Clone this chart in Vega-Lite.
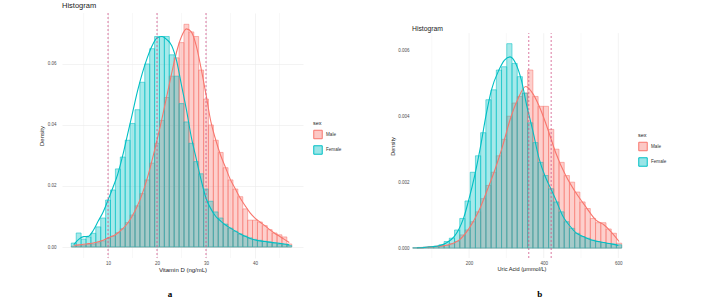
{
  "$schema": "https://vega.github.io/schema/vega-lite/v6.json",
  "background": "white",
  "padding": {"left": 38, "top": 2, "right": 2, "bottom": 2},
  "config": {
    "font": "Liberation Sans",
    "view": {"stroke": null},
    "axis": {"domain": false, "ticks": false, "gridColor": "#EBEBEB", "gridWidth": 0.6, "labelFontSize": 4.5, "labelColor": "#4D4D4D", "labelOverlap": false, "titleFontSize": 6, "titleFontWeight": "normal", "titleColor": "#1a1a1a"},
    "legend": {"titleFontSize": 5.5, "titleFontWeight": "normal", "titleColor": "#1a1a1a", "labelFontSize": 4.6, "labelColor": "#333333", "symbolType": "square", "symbolSize": 72, "symbolStrokeWidth": 1, "rowPadding": 1.5, "titlePadding": 3, "labelOffset": 3}
  },
  "datasets": {
    "vd_bars": [
      {"lo": 2.5, "hi": 3.5, "Male": 0.0003, "Female": 0.0013},
      {"lo": 3.5, "hi": 4.5, "Male": 0.0004, "Female": 0.0046},
      {"lo": 4.5, "hi": 5.5, "Male": 0.0006, "Female": 0.0026},
      {"lo": 5.5, "hi": 6.5, "Male": 0.0008, "Female": 0.0033},
      {"lo": 6.5, "hi": 7.5, "Male": 0.001, "Female": 0.0045},
      {"lo": 7.5, "hi": 8.5, "Male": 0.0014, "Female": 0.0066},
      {"lo": 8.5, "hi": 9.5, "Male": 0.002, "Female": 0.0095},
      {"lo": 9.5, "hi": 10.5, "Male": 0.0028, "Female": 0.0154},
      {"lo": 10.5, "hi": 11.5, "Male": 0.0036, "Female": 0.0187},
      {"lo": 11.5, "hi": 12.5, "Male": 0.0047, "Female": 0.0256},
      {"lo": 12.5, "hi": 13.5, "Male": 0.006, "Female": 0.0295},
      {"lo": 13.5, "hi": 14.5, "Male": 0.008, "Female": 0.035},
      {"lo": 14.5, "hi": 15.5, "Male": 0.0105, "Female": 0.0405},
      {"lo": 15.5, "hi": 16.5, "Male": 0.0135, "Female": 0.045},
      {"lo": 16.5, "hi": 17.5, "Male": 0.0175, "Female": 0.054},
      {"lo": 17.5, "hi": 18.5, "Male": 0.022, "Female": 0.06},
      {"lo": 18.5, "hi": 19.5, "Male": 0.0275, "Female": 0.065},
      {"lo": 19.5, "hi": 20.5, "Male": 0.034, "Female": 0.069},
      {"lo": 20.5, "hi": 21.5, "Male": 0.0415, "Female": 0.069},
      {"lo": 21.5, "hi": 22.5, "Male": 0.049, "Female": 0.069},
      {"lo": 22.5, "hi": 23.5, "Male": 0.056, "Female": 0.063},
      {"lo": 23.5, "hi": 24.5, "Male": 0.062, "Female": 0.056},
      {"lo": 24.5, "hi": 25.5, "Male": 0.067, "Female": 0.047},
      {"lo": 25.5, "hi": 26.5, "Male": 0.073, "Female": 0.041},
      {"lo": 26.5, "hi": 27.5, "Male": 0.0705, "Female": 0.034},
      {"lo": 27.5, "hi": 28.5, "Male": 0.069, "Female": 0.028},
      {"lo": 28.5, "hi": 29.5, "Male": 0.058, "Female": 0.024},
      {"lo": 29.5, "hi": 30.5, "Male": 0.0485, "Female": 0.019},
      {"lo": 30.5, "hi": 31.5, "Male": 0.04, "Female": 0.015},
      {"lo": 31.5, "hi": 32.5, "Male": 0.035, "Female": 0.0115},
      {"lo": 32.5, "hi": 33.5, "Male": 0.031, "Female": 0.0095},
      {"lo": 33.5, "hi": 34.5, "Male": 0.026, "Female": 0.0075},
      {"lo": 34.5, "hi": 35.5, "Male": 0.022, "Female": 0.0062},
      {"lo": 35.5, "hi": 36.5, "Male": 0.019, "Female": 0.0052},
      {"lo": 36.5, "hi": 37.5, "Male": 0.0165, "Female": 0.0043},
      {"lo": 37.5, "hi": 38.5, "Male": 0.0125, "Female": 0.0036},
      {"lo": 38.5, "hi": 39.5, "Male": 0.0088, "Female": 0.003},
      {"lo": 39.5, "hi": 40.5, "Male": 0.0088, "Female": 0.0025},
      {"lo": 40.5, "hi": 41.5, "Male": 0.0082, "Female": 0.0022},
      {"lo": 41.5, "hi": 42.5, "Male": 0.007, "Female": 0.0019},
      {"lo": 42.5, "hi": 43.5, "Male": 0.0057, "Female": 0.0016},
      {"lo": 43.5, "hi": 44.5, "Male": 0.0046, "Female": 0.0013},
      {"lo": 44.5, "hi": 45.5, "Male": 0.004, "Female": 0.001},
      {"lo": 45.5, "hi": 46.5, "Male": 0.0033, "Female": 0.0008},
      {"lo": 46.5, "hi": 47.5, "Male": 0.001, "Female": 0.0005}
    ],
    "vd_dens": [
      {"x": 3, "Male": 0.0006, "Female": 0.0008},
      {"x": 4, "Male": 0.0007, "Female": 0.0025},
      {"x": 5, "Male": 0.0009, "Female": 0.0034},
      {"x": 6, "Male": 0.0011, "Female": 0.0035},
      {"x": 7, "Male": 0.0013, "Female": 0.0055},
      {"x": 8, "Male": 0.0017, "Female": 0.0085},
      {"x": 9, "Male": 0.0022, "Female": 0.0115},
      {"x": 10, "Male": 0.003, "Female": 0.0154},
      {"x": 11, "Male": 0.0036, "Female": 0.0195},
      {"x": 12, "Male": 0.0046, "Female": 0.024},
      {"x": 13, "Male": 0.006, "Female": 0.03},
      {"x": 14, "Male": 0.0078, "Female": 0.037},
      {"x": 15, "Male": 0.0103, "Female": 0.044},
      {"x": 16, "Male": 0.0135, "Female": 0.051},
      {"x": 17, "Male": 0.0175, "Female": 0.057},
      {"x": 18, "Male": 0.0225, "Female": 0.062},
      {"x": 19, "Male": 0.0285, "Female": 0.066},
      {"x": 20, "Male": 0.035, "Female": 0.0685},
      {"x": 21, "Male": 0.042, "Female": 0.069},
      {"x": 22, "Male": 0.0495, "Female": 0.068},
      {"x": 23, "Male": 0.057, "Female": 0.066},
      {"x": 24, "Male": 0.064, "Female": 0.061},
      {"x": 25, "Male": 0.069, "Female": 0.053},
      {"x": 26, "Male": 0.0715, "Female": 0.045},
      {"x": 27, "Male": 0.0705, "Female": 0.036},
      {"x": 28, "Male": 0.066, "Female": 0.029},
      {"x": 29, "Male": 0.0585, "Female": 0.022},
      {"x": 30, "Male": 0.05, "Female": 0.016},
      {"x": 31, "Male": 0.041, "Female": 0.0125},
      {"x": 32, "Male": 0.035, "Female": 0.01},
      {"x": 33, "Male": 0.03, "Female": 0.0085},
      {"x": 34, "Male": 0.026, "Female": 0.0072},
      {"x": 35, "Male": 0.022, "Female": 0.0062},
      {"x": 36, "Male": 0.019, "Female": 0.0052},
      {"x": 37, "Male": 0.016, "Female": 0.0043},
      {"x": 38, "Male": 0.0135, "Female": 0.0035},
      {"x": 39, "Male": 0.0112, "Female": 0.0028},
      {"x": 40, "Male": 0.0095, "Female": 0.0023},
      {"x": 41, "Male": 0.0082, "Female": 0.002},
      {"x": 42, "Male": 0.007, "Female": 0.0018},
      {"x": 43, "Male": 0.0057, "Female": 0.0016},
      {"x": 44, "Male": 0.0045, "Female": 0.0014},
      {"x": 45, "Male": 0.0035, "Female": 0.0012},
      {"x": 46, "Male": 0.0025, "Female": 0.001},
      {"x": 47, "Male": 0.0015, "Female": 0.0007}
    ],
    "ua_bars": [
      {"lo": 49, "hi": 63, "Male": 0.00001, "Female": 0.00001},
      {"lo": 63, "hi": 77, "Male": 0.00001, "Female": 0.00002},
      {"lo": 77, "hi": 91, "Male": 0.00002, "Female": 0.00003},
      {"lo": 91, "hi": 105, "Male": 0.00003, "Female": 0.00004},
      {"lo": 105, "hi": 119, "Male": 0.00004, "Female": 0.00006},
      {"lo": 119, "hi": 133, "Male": 0.00006, "Female": 0.0001},
      {"lo": 133, "hi": 147, "Male": 0.00008, "Female": 0.0002},
      {"lo": 147, "hi": 161, "Male": 0.00013, "Female": 0.0003},
      {"lo": 161, "hi": 175, "Male": 0.0002, "Female": 0.00055},
      {"lo": 175, "hi": 189, "Male": 0.0004, "Female": 0.0009},
      {"lo": 189, "hi": 203, "Male": 0.00055, "Female": 0.00143},
      {"lo": 203, "hi": 217, "Male": 0.0008, "Female": 0.0023},
      {"lo": 217, "hi": 231, "Male": 0.0011, "Female": 0.0028},
      {"lo": 231, "hi": 245, "Male": 0.0015, "Female": 0.0035},
      {"lo": 245, "hi": 259, "Male": 0.0019, "Female": 0.0045},
      {"lo": 259, "hi": 273, "Male": 0.0023, "Female": 0.0048},
      {"lo": 273, "hi": 287, "Male": 0.0028, "Female": 0.0054},
      {"lo": 287, "hi": 301, "Male": 0.0033, "Female": 0.0055},
      {"lo": 301, "hi": 315, "Male": 0.004, "Female": 0.0062},
      {"lo": 315, "hi": 329, "Male": 0.0044, "Female": 0.0056},
      {"lo": 329, "hi": 343, "Male": 0.0046, "Female": 0.0052},
      {"lo": 343, "hi": 357, "Male": 0.0047, "Female": 0.0047},
      {"lo": 357, "hi": 371, "Male": 0.0054, "Female": 0.0038},
      {"lo": 371, "hi": 385, "Male": 0.0046, "Female": 0.0032},
      {"lo": 385, "hi": 399, "Male": 0.0043, "Female": 0.0026},
      {"lo": 399, "hi": 413, "Male": 0.0043, "Female": 0.0022},
      {"lo": 413, "hi": 427, "Male": 0.0036, "Female": 0.0018},
      {"lo": 427, "hi": 441, "Male": 0.003, "Female": 0.0014},
      {"lo": 441, "hi": 455, "Male": 0.0026, "Female": 0.0011},
      {"lo": 455, "hi": 469, "Male": 0.0022, "Female": 0.0008},
      {"lo": 469, "hi": 483, "Male": 0.002, "Female": 0.0006},
      {"lo": 483, "hi": 497, "Male": 0.0017, "Female": 0.00045},
      {"lo": 497, "hi": 511, "Male": 0.0014, "Female": 0.00035},
      {"lo": 511, "hi": 525, "Male": 0.0012, "Female": 0.0003},
      {"lo": 525, "hi": 539, "Male": 0.0009, "Female": 0.00024},
      {"lo": 539, "hi": 553, "Male": 0.00077, "Female": 0.0002},
      {"lo": 553, "hi": 567, "Male": 0.00077, "Female": 0.00017},
      {"lo": 567, "hi": 581, "Male": 0.00058, "Female": 0.00014},
      {"lo": 581, "hi": 595, "Male": 0.00045, "Female": 0.00012},
      {"lo": 595, "hi": 609, "Male": 0.00015, "Female": 0.0001}
    ],
    "ua_dens": [
      {"sex": "Male", "x": 60, "d": 0.00001},
      {"sex": "Male", "x": 93, "d": 0.00003},
      {"sex": "Male", "x": 120, "d": 0.00006},
      {"sex": "Male", "x": 146, "d": 0.0001},
      {"sex": "Male", "x": 173, "d": 0.00024},
      {"sex": "Male", "x": 200, "d": 0.0006},
      {"sex": "Male", "x": 225, "d": 0.0011},
      {"sex": "Male", "x": 250, "d": 0.0018},
      {"sex": "Male", "x": 270, "d": 0.0024},
      {"sex": "Male", "x": 290, "d": 0.0031},
      {"sex": "Male", "x": 310, "d": 0.0039},
      {"sex": "Male", "x": 330, "d": 0.0045},
      {"sex": "Male", "x": 352, "d": 0.0049},
      {"sex": "Male", "x": 370, "d": 0.0047},
      {"sex": "Male", "x": 388, "d": 0.0043},
      {"sex": "Male", "x": 405, "d": 0.0038},
      {"sex": "Male", "x": 420, "d": 0.0033},
      {"sex": "Male", "x": 432, "d": 0.0029},
      {"sex": "Male", "x": 459, "d": 0.0022},
      {"sex": "Male", "x": 485, "d": 0.0017},
      {"sex": "Male", "x": 513, "d": 0.00125},
      {"sex": "Male", "x": 540, "d": 0.00085},
      {"sex": "Male", "x": 562, "d": 0.0007},
      {"sex": "Male", "x": 580, "d": 0.0005},
      {"sex": "Male", "x": 602, "d": 0.0002},
      {"sex": "Female", "x": 60, "d": 0.00001},
      {"sex": "Female", "x": 80, "d": 0.00002},
      {"sex": "Female", "x": 100, "d": 0.00004},
      {"sex": "Female", "x": 120, "d": 0.00007},
      {"sex": "Female", "x": 140, "d": 0.00016},
      {"sex": "Female", "x": 160, "d": 0.00035},
      {"sex": "Female", "x": 173, "d": 0.00058},
      {"sex": "Female", "x": 185, "d": 0.0009},
      {"sex": "Female", "x": 200, "d": 0.0015},
      {"sex": "Female", "x": 215, "d": 0.0022},
      {"sex": "Female", "x": 231, "d": 0.0031},
      {"sex": "Female", "x": 245, "d": 0.004},
      {"sex": "Female", "x": 260, "d": 0.0048},
      {"sex": "Female", "x": 280, "d": 0.0054},
      {"sex": "Female", "x": 295, "d": 0.0057},
      {"sex": "Female", "x": 310, "d": 0.0058},
      {"sex": "Female", "x": 325, "d": 0.0056},
      {"sex": "Female", "x": 340, "d": 0.0051},
      {"sex": "Female", "x": 355, "d": 0.0043},
      {"sex": "Female", "x": 370, "d": 0.0036},
      {"sex": "Female", "x": 388, "d": 0.0027},
      {"sex": "Female", "x": 403, "d": 0.0022},
      {"sex": "Female", "x": 419, "d": 0.0018},
      {"sex": "Female", "x": 435, "d": 0.0014},
      {"sex": "Female", "x": 450, "d": 0.001},
      {"sex": "Female", "x": 468, "d": 0.0007},
      {"sex": "Female", "x": 486, "d": 0.00047},
      {"sex": "Female", "x": 510, "d": 0.00033},
      {"sex": "Female", "x": 531, "d": 0.00024},
      {"sex": "Female", "x": 560, "d": 0.00017},
      {"sex": "Female", "x": 585, "d": 0.00012},
      {"sex": "Female", "x": 600, "d": 0.00008}
    ]
  },
  "spacing": 48,
  "resolve": {
    "scale": {"x": "independent", "y": "independent", "fill": "independent", "stroke": "independent"},
    "legend": {"fill": "independent", "stroke": "independent"}
  },
  "hconcat": [
    {
      "title": {"text": "a", "orient": "bottom", "anchor": "middle", "font": "Liberation Serif", "fontWeight": "bold", "fontSize": 9, "color": "#000000", "offset": 18, "dx": -20},
      "resolve": {"legend": {"fill": "independent", "stroke": "independent"}},
      "vconcat": [
        {
          "width": 241,
          "height": 245,
          "title": {"text": "Histogram", "anchor": "start", "frame": "group", "fontSize": 7.5, "fontWeight": "normal", "offset": 3, "color": "#1a1a1a"},
          "layer": [
            {
              "data": {"values": [{"g": 5}, {"g": 15}, {"g": 25}, {"g": 35}, {"g": 45}]},
              "mark": {"type": "rule", "color": "#EBEBEB", "strokeWidth": 0.6, "opacity": 0.55},
              "encoding": {"x": {"field": "g", "type": "quantitative"}}
            },
            {
              "data": {"name": "vd_bars"},
              "transform": [{"fold": ["Male", "Female"], "as": ["sex", "d"]}],
              "mark": {"type": "bar", "fillOpacity": 0.35, "strokeWidth": 0.6, "strokeOpacity": 0.9},
              "encoding": {
                "x": {"field": "lo", "type": "quantitative", "scale": {"domain": [0.6, 49.8], "nice": false, "zero": false},
                  "axis": {"title": "Vitamin D (ng/mL)", "values": [10, 20, 30, 40], "format": "d", "labelOverlap": false, "labelPadding": 2, "titlePadding": 1.5}},
                "x2": {"field": "hi"},
                "y": {"field": "d", "type": "quantitative", "scale": {"domain": [-0.0036, 0.0767], "nice": false, "zero": false},
                  "axis": {"title": "Density", "values": [0, 0.01, 0.02, 0.03, 0.04, 0.05, 0.06, 0.07], "labelExpr": "round(datum.value*100) % 2 === 0 ? format(datum.value, '.2f') : ''", "labelPadding": 6, "titlePadding": 3,
                    "gridOpacity": {"condition": {"test": "round(datum.value*100) % 2 === 1", "value": 0.55}, "value": 1}}},
                "y2": {"datum": 0},
                "fill": {"field": "sex", "type": "nominal", "scale": {"domain": ["Male", "Female"], "range": ["#F8766D", "#00BFC4"]},
                  "legend": {"title": "sex", "orient": "none", "legendX": 251, "legendY": 108, "encode": {"symbols": {"update": {"fillOpacity": {"value": 0.4}, "strokeOpacity": {"value": 1}}}}}},
                "stroke": {"field": "sex", "type": "nominal", "scale": {"domain": ["Male", "Female"], "range": ["#F8766D", "#00BFC4"]},
                  "legend": {"title": "sex", "orient": "none", "legendX": 251, "legendY": 108, "encode": {"symbols": {"update": {"fillOpacity": {"value": 0.4}, "strokeOpacity": {"value": 1}}}}}}
              }
            },
            {
              "data": {"name": "vd_dens"},
              "transform": [{"fold": ["Male", "Female"], "as": ["sex", "d"]}],
              "mark": {"type": "line", "strokeWidth": 1.1, "interpolate": "monotone"},
              "encoding": {
                "x": {"field": "x", "type": "quantitative"},
                "y": {"field": "d", "type": "quantitative"},
                "stroke": {"field": "sex", "type": "nominal", "legend": null}
              }
            },
            {
              "data": {"values": [{"cut": 10}, {"cut": 20}, {"cut": 30}]},
              "mark": {"type": "rule", "strokeDash": [2, 2], "color": "#D2578A", "strokeWidth": 0.8},
              "encoding": {"x": {"field": "cut", "type": "quantitative"}}
            }
          ]
        }
      ]
    },
    {
      "title": {"text": "b", "orient": "bottom", "anchor": "middle", "font": "Liberation Serif", "fontWeight": "bold", "fontSize": 9, "color": "#000000", "offset": 18, "dx": 11},
      "resolve": {"legend": {"fill": "independent", "stroke": "independent"}},
      "vconcat": [
        {
          "width": 219,
          "height": 245,
          "title": {"text": "Histogram", "anchor": "start", "frame": "group", "fontSize": 6.8, "fontWeight": "normal", "offset": -19.5, "color": "#1a1a1a"},
          "layer": [
            {
              "data": {"values": [{"g": 100}, {"g": 300}, {"g": 500}]},
              "mark": {"type": "rule", "color": "#EBEBEB", "strokeWidth": 0.6, "opacity": 0.55},
              "encoding": {"x": {"field": "g", "type": "quantitative"}, "y": {"datum": -0.0003, "type": "quantitative"}, "y2": {"datum": 0.00652}}
            },
            {
              "data": {"values": [{"g": 200}, {"g": 400}, {"g": 600}]},
              "mark": {"type": "rule", "color": "#EBEBEB", "strokeWidth": 0.6},
              "encoding": {"x": {"field": "g", "type": "quantitative"}, "y": {"datum": -0.0003, "type": "quantitative"}, "y2": {"datum": 0.00652}}
            },
            {
              "data": {"name": "ua_bars"},
              "transform": [{"fold": ["Male", "Female"], "as": ["sex", "d"]}],
              "mark": {"type": "bar", "fillOpacity": 0.35, "strokeWidth": 0.6, "strokeOpacity": 0.9},
              "encoding": {
                "x": {"field": "lo", "type": "quantitative", "scale": {"domain": [47, 634], "nice": false, "zero": false},
                  "axis": {"title": "Uric Acid (μmmol/L)", "values": [200, 400, 600], "grid": false, "format": "d", "labelOverlap": false, "labelPadding": 2, "titlePadding": 1.5, "titleFontSize": 5.6, "labelFontSize": 4.5}},
                "x2": {"field": "hi"},
                "y": {"field": "d", "type": "quantitative", "scale": {"domain": [-0.0003, 0.00713], "nice": false, "zero": false},
                  "axis": {"title": "Density", "titleY": 133, "values": [0, 0.001, 0.002, 0.003, 0.004, 0.005, 0.006], "labelExpr": "round(datum.value*1000) % 2 === 0 ? format(datum.value, '.3f') : ''", "labelPadding": 3, "titlePadding": 2, "titleFontSize": 5.6,
                    "gridOpacity": {"condition": {"test": "round(datum.value*1000) % 2 === 1", "value": 0.55}, "value": 1}}},
                "y2": {"datum": 0},
                "fill": {"field": "sex", "type": "nominal", "scale": {"domain": ["Male", "Female"], "range": ["#F8766D", "#00BFC4"]},
                  "legend": {"title": "sex", "orient": "none", "legendX": 226, "legendY": 120, "encode": {"symbols": {"update": {"fillOpacity": {"value": 0.4}, "strokeOpacity": {"value": 1}}}}}},
                "stroke": {"field": "sex", "type": "nominal", "scale": {"domain": ["Male", "Female"], "range": ["#F8766D", "#00BFC4"]},
                  "legend": {"title": "sex", "orient": "none", "legendX": 226, "legendY": 120, "encode": {"symbols": {"update": {"fillOpacity": {"value": 0.4}, "strokeOpacity": {"value": 1}}}}}}
              }
            },
            {
              "data": {"name": "ua_dens"},
              "mark": {"type": "line", "strokeWidth": 1.1, "interpolate": "monotone"},
              "encoding": {
                "x": {"field": "x", "type": "quantitative"},
                "y": {"field": "d", "type": "quantitative"},
                "stroke": {"field": "sex", "type": "nominal", "legend": null}
              }
            },
            {
              "data": {"values": [{"cut": 360}, {"cut": 420}]},
              "mark": {"type": "rule", "strokeDash": [2, 2], "color": "#D2578A", "strokeWidth": 0.8},
              "encoding": {"x": {"field": "cut", "type": "quantitative"}, "y": {"datum": -0.0003, "type": "quantitative"}, "y2": {"datum": 0.00652}}
            }
          ]
        }
      ]
    }
  ]
}
